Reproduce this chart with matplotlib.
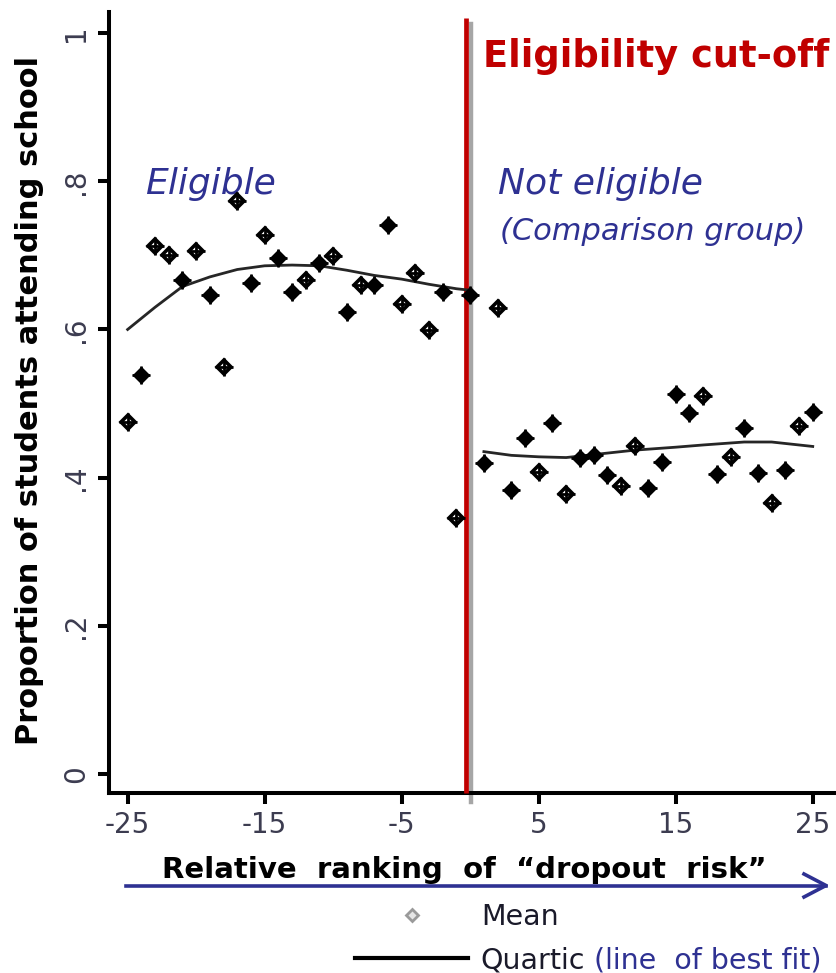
import matplotlib
matplotlib.use('Agg')
import matplotlib.pyplot as plt
from matplotlib.lines import Line2D

# relativní pořadí "rizika odchodu" (osa x)
rank = list(range(-25, 26))

# průměrný podíl žáků, kteří chodí do školy
share = [0.475, 0.538, 0.713, 0.701, 0.667, 0.706, 0.646, 0.549, 0.773, 0.663,
         0.727, 0.696, 0.650, 0.667, 0.690, 0.699, 0.623, 0.660, 0.660, 0.741,
         0.634, 0.676, 0.599, 0.651, 0.345, 0.646,
         0.420, 0.629, 0.383, 0.453, 0.408, 0.473, 0.378, 0.426, 0.430, 0.403,
         0.388, 0.443, 0.386, 0.421, 0.513, 0.487, 0.510, 0.405, 0.428, 0.467,
         0.406, 0.365, 0.410, 0.470, 0.488]

# body, které jsou v originále vykreslené jako duté
hollow_ranks = [-25, -23, -22, -20, -18, -17, -15, -12, -10, -8, -5, -4, -3, -1,
                2, 5, 7, 11, 12, 17, 19, 22, 24]

# proložení (quartic) vlevo a vpravo od hranice
fit_left_x = [-25, -23, -21, -19, -17, -15, -13, -11, -9, -7, -5, -3, -1, 0]
fit_left_y = [0.600, 0.630, 0.658, 0.671, 0.681, 0.686, 0.687, 0.686, 0.680,
              0.673, 0.668, 0.661, 0.655, 0.653]
fit_right_x = [1, 3, 5, 7, 10, 12, 15, 17, 20, 22, 24, 25]
fit_right_y = [0.435, 0.430, 0.428, 0.427, 0.433, 0.437, 0.441, 0.444, 0.448,
               0.448, 0.444, 0.442]

x_ticks = [-25, -15, -5, 5, 15, 25]
y_ticks = [0, 0.2, 0.4, 0.6, 0.8, 1]
y_tick_labels = ['0', '.2', '.4', '.6', '.8', '1']
cutoff = 0

navy = '#2e3192'
red = '#c00000'
W, H = 837, 973


def fx(px):
    return px / W


def fy(py):
    return 1 - py / H


fig = plt.figure(figsize=(W / 100, H / 100), dpi=100)
ax = fig.add_axes([fx(109), fy(792.5), (W - 109) / W, (792.5 - 12) / H])
ax.set_xlim(-26.36, 26.77)
ax.set_ylim(-0.0254, 1.0288)

# svislá hranice způsobilosti
ax.axvline(cutoff + 0.03, ymin=-0.012, ymax=0.9845, color='#a6a6a6', lw=3.2,
           clip_on=False, zorder=2)
ax.axvline(cutoff - 0.27, ymin=0, ymax=0.9923, color=red, lw=3.4,
           solid_capstyle='butt', clip_on=False, zorder=3)

# proložené křivky
ax.plot(fit_left_x, fit_left_y, color='#262626', lw=2, zorder=4)
ax.plot(fit_right_x, fit_right_y, color='#262626', lw=2, zorder=4)

# průměry
xs_h = [r for r, s in zip(rank, share) if r in hollow_ranks]
ys_h = [s for r, s in zip(rank, share) if r in hollow_ranks]
xs_f = [r for r, s in zip(rank, share) if r not in hollow_ranks]
ys_f = [s for r, s in zip(rank, share) if r not in hollow_ranks]
ax.plot(xs_f, ys_f, ls='none', marker='D', ms=7.5, mfc='black', mec='black',
        mew=2, zorder=5)
ax.plot(xs_h, ys_h, ls='none', marker='D', ms=7.5, mfc='white', mec='black',
        mew=2.6, zorder=5)
ax.plot(rank, share, ls='none', marker='+', ms=12.5, mec='black', mew=2,
        zorder=5)

# osy
for side in ['top', 'right']:
    ax.spines[side].set_visible(False)
for side in ['left', 'bottom']:
    ax.spines[side].set_linewidth(2.9)
ax.set_xticks(x_ticks)
ax.set_xticklabels([str(t) for t in x_ticks])
ax.set_yticks(y_ticks)
ax.set_yticklabels(y_tick_labels, rotation=90, va='center')
ax.tick_params(axis='both', length=8, width=2.9, labelsize=20,
               labelcolor='#3c3c50')
ax.tick_params(axis='x', pad=5)
ax.tick_params(axis='y', pad=5.5)

# popisky v grafu
ax.text(0.93, 0.955, 'Eligibility cut-off', color=red, fontsize=26.5,
        fontweight='bold', ha='left', va='baseline')
ax.text(-23.73, 0.783, 'Eligible', color=navy, fontsize=26, style='italic',
        ha='left', va='baseline')
ax.text(2.03, 0.783, 'Not eligible', color=navy, fontsize=26, style='italic',
        ha='left', va='baseline')
ax.text(2.17, 0.7206, '(Comparison group)', color=navy, fontsize=22,
        style='italic', ha='left', va='baseline')

# popisky os
fig.text(fx(30), fy(400), 'Proportion of students attending school',
         rotation=90, fontsize=22, fontweight='bold', ha='center', va='center')
fig.text(fx(464), fy(878), 'Relative  ranking  of  \u201cdropout  risk\u201d',
         fontsize=21, fontweight='bold', ha='center', va='baseline')

# šipka pod popiskem osy x
fig.add_artist(Line2D([fx(126), fx(826)], [fy(885.5), fy(885.5)], color=navy,
                      lw=2.6))
fig.add_artist(Line2D([fx(804), fx(826), fx(804)],
                      [fy(874), fy(885.5), fy(897)], color=navy, lw=2.6))

# legenda
handles = [Line2D([], [], ls='none', marker='D', ms=6, mfc='#e6e6e6',
                  mec='#9a9a9a', mew=2),
           Line2D([], [], color='black', lw=3)]
fig.legend(handles, ['Mean', 'Quartic'], loc='upper left',
           bbox_to_anchor=(fx(355), fy(903)), frameon=False, fontsize=20.5,
           handlelength=3.97, handletextpad=0.45, labelspacing=0.53,
           borderpad=0, borderaxespad=0, labelcolor='#1a1a2a')
fig.text(fx(594), fy(960), '(line  of best fit)', color=navy, fontsize=20.5,
         ha='left', va='center')

fig.savefig('out.png', dpi=100)
